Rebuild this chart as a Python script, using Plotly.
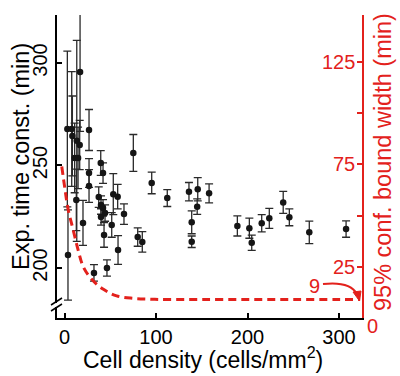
import plotly.graph_objects as go

# ---- data ----
density = [3.1, 3.8, 7.9, 8.6, 11.1, 12.9, 13.4, 14.8, 16.6, 17.0, 20.2, 26.8, 26.8, 26.8,
           32.2, 37.4, 39.6, 39.9, 39.9, 42.1, 42.1, 43.2, 44.3, 46.4, 51.6, 53.3, 58.1, 58.5,
           65.0, 75.2, 80.0, 85.0, 95.3, 112.3, 136, 139, 139, 145, 145.6, 158, 188.9, 202,
           204.6, 215.5, 223.8, 239, 245.7, 267.5, 307.7]
tau = [267.8, 206.3, 267.8, 264.4, 253.7, 233.2, 262.0, 253.7, 260.0, 295.6, 222.0, 267.3, 246.3, 240.0,
       197.6, 234.6, 251.2, 230.7, 224.9, 246.3, 229.3, 216.1, 226.8, 200.0, 221.0, 236.0, 234.8, 208.8,
       226.3, 256.1, 215.1, 212.7, 241.5, 234.1, 237.2, 222.3, 212.8, 229.9, 238.4, 236.4, 220.5, 219.4,
       212.3, 221.8, 224.2, 232.0, 224.7, 217.4, 219.0]
tau_err = [38, 22, 28, 19.5, 17, 15, 49, 15, 12, 29, 11, 10, 7, 8,
           4, 5, 6, 4.5, 4, 5, 4, 6, 4, 4, 6, 10, 6, 7,
           5, 9, 4.5, 5, 5.3, 4.1, 4.5, 5.6, 2.8, 3.8, 5.7, 4.6, 4.9, 4.9,
           3.7, 4.2, 4.9, 5.4, 4.1, 5.5, 4.0]

ci_density = [-3, 0.5, 4, 9.5, 15, 20.5, 29.5, 42.5, 57, 75, 93, 111, 150, 200, 250, 300, 323]
ci_width = [74, 63, 53, 43, 33, 25, 19, 14, 10.8, 9.6, 9.2, 9.0, 9.0, 9.0, 9.0, 9.0, 9.0]

x_ticks = [0, 100, 200, 300]
y_ticks = [200, 250, 300]
y2_ticks = [25, 50, 75, 100, 125]
y2_labels = ["25", "75", "125"]

RED = "#e3211c"
FONT = "Liberation Sans, Arial, sans-serif"

W, H = 400, 376
L, R, T, B = 57, 362, 15, 318


def px(x):
    return (x - L) / (R - L)


def py(y):
    return (B - y) / (B - T)


fig = go.Figure()
fig.add_trace(go.Scatter(
    x=ci_density, y=ci_width, yaxis="y2", mode="lines",
    line=dict(color=RED, width=3, dash="8px,5px", shape="spline"),
    showlegend=False, hoverinfo="skip"))
fig.add_trace(go.Scatter(
    x=density, y=tau, mode="markers",
    marker=dict(color="#151515", size=6.5),
    error_y=dict(type="data", array=tau_err, color="#2a2a2a", thickness=1.3, width=4),
    showlegend=False))

shapes = [
    # axis break on left axis
    dict(type="rect", xref="paper", yref="paper", x0=px(54), x1=px(60), y0=py(307), y1=py(303),
         fillcolor="white", line=dict(width=0), layer="above"),
    dict(type="line", xref="paper", yref="paper", x0=px(51), y0=py(305), x1=px(62), y1=py(298),
         line=dict(color="black", width=1.5), layer="above"),
    dict(type="line", xref="paper", yref="paper", x0=px(51), y0=py(311), x1=px(62), y1=py(304),
         line=dict(color="black", width=1.5), layer="above"),
    # curved arrow for the "9" label
    dict(type="path", xref="paper", yref="paper",
         path=f"M {px(323)},{py(284)} Q {px(350)},{py(281)} {px(357)},{py(294)}",
         line=dict(color=RED, width=2)),
    dict(type="path", xref="paper", yref="paper",
         path=f"M {px(353)},{py(292)} L {px(361)},{py(291)} L {px(359.5)},{py(301)} Z",
         fillcolor=RED, line=dict(color=RED, width=1)),
]

annotations = [
    dict(text="Cell density (cells/mm<sup>2</sup>)", xref="paper", yref="paper",
         x=px(203), y=py(358), showarrow=False, xanchor="center", yanchor="middle",
         font=dict(size=23, color="black", family=FONT)),
    dict(text="Exp. time const. (min)", xref="paper", yref="paper", textangle=-90,
         x=px(21), y=py(157), showarrow=False, xanchor="center", yanchor="middle",
         font=dict(size=23.5, color="black", family=FONT)),
    dict(text="95% conf. bound width (min)", xref="paper", yref="paper", textangle=-90,
         x=px(383), y=py(162), showarrow=False, xanchor="center", yanchor="middle",
         font=dict(size=23.5, color=RED, family=FONT)),
    dict(text="0", xref="paper", yref="paper",
         x=px(372), y=py(326), showarrow=False, xanchor="center", yanchor="middle",
         font=dict(size=20, color=RED, family=FONT)),
    dict(text="9", xref="paper", yref="paper",
         x=px(314), y=py(286), showarrow=False, xanchor="center", yanchor="middle",
         font=dict(size=20, color=RED, family=FONT)),
]
# right-axis tick labels sit inside the plot, left of the red axis
for val, lab in zip(y2_ticks[::2], y2_labels):
    annotations.append(dict(text=lab, xref="paper", yref="y2", x=1, y=val, xanchor="right",
                            yanchor="middle", xshift=-5, showarrow=False,
                            font=dict(size=20, color=RED, family=FONT)))

fig.update_layout(
    width=W, height=H,
    margin=dict(l=L, r=W - R, t=T, b=H - B, pad=0),
    paper_bgcolor="white", plot_bgcolor="white",
    font=dict(family=FONT, size=20, color="black"),
    xaxis=dict(range=[-8.2, 325.1], tickvals=x_ticks, ticks="inside", ticklen=5, tickwidth=1.5,
               tickcolor="black", showline=True, linecolor="black", linewidth=2,
               showgrid=False, zeroline=False, tickfont=dict(size=20, color="black")),
    yaxis=dict(range=[175.6, 323.4], tickvals=y_ticks, ticks="inside", ticklen=5, tickwidth=1.5,
               tickcolor="black", showline=True, linecolor="black", linewidth=2, tickangle=-90,
               showgrid=False, zeroline=False, tickfont=dict(size=20, color="black")),
    yaxis2=dict(range=[0, 148], overlaying="y", side="right", tickvals=y2_ticks,
                showticklabels=False, ticks="inside", ticklen=5, tickwidth=1.5, tickcolor=RED,
                showline=True, linecolor=RED, linewidth=2,
                showgrid=False, zeroline=False),
    shapes=shapes, annotations=annotations,
)

fig.write_html("out.html", config={"displayModeBar": False},
               post_script="document.body.style.margin='0';document.body.style.overflow='hidden';")
